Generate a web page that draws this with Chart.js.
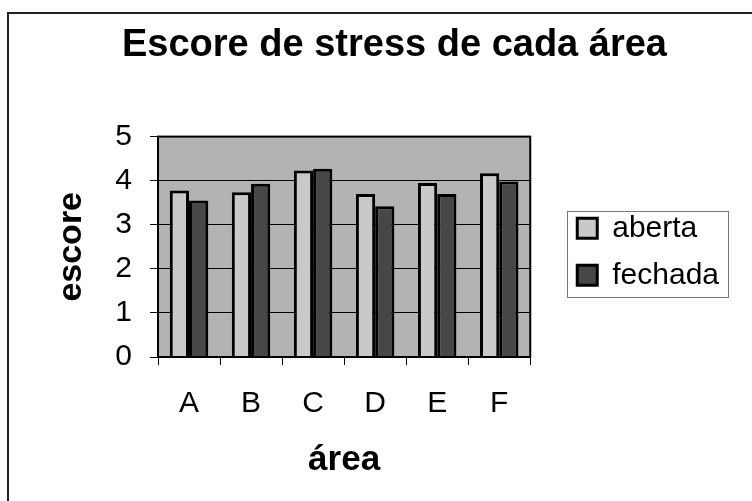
<!DOCTYPE html>
<html>
<head>
<meta charset="utf-8">
<script src="https://cdn.jsdelivr.net/npm/chart.js@4/dist/chart.umd.min.js"></script>
<style>
  html, body { margin: 0; padding: 0; background: #fff; }
  #wrap { width: 752px; height: 501px; }
</style>
</head>
<body>
<div id="wrap"><canvas id="chart" width="752" height="501"></canvas></div>
<script>
const areas = ['A', 'B', 'C', 'D', 'E', 'F'];
const aberta = [3.78, 3.74, 4.23, 3.70, 3.95, 4.17];
const fechada = [3.55, 3.93, 4.27, 3.42, 3.70, 3.98];
const yTicks = [0, 1, 2, 3, 4, 5];

const FONT = 'Liberation Sans, Arial, sans-serif';

// page frame, plot background and border, legend box
const framePlugin = {
    id: 'frame',
    afterLayout(chart) {
        // the title sits a bit right of the canvas centre in the original
        chart.titleBlock.left += 26;
        chart.titleBlock.right += 26;
        // legend sits slightly below the plot's middle
        chart.legend.top += 5;
        chart.legend.bottom += 5;
    },
    beforeDraw(chart) {
        const ctx = chart.ctx;
        const a = chart.chartArea;
        ctx.save();
        ctx.fillStyle = '#b3b3b3';
        ctx.fillRect(a.left, a.top, a.right - a.left, a.bottom - a.top);
        ctx.strokeStyle = '#222';
        ctx.lineWidth = 2;
        ctx.beginPath();
        ctx.moveTo(8, 501);
        ctx.lineTo(8, 13);
        ctx.lineTo(752, 13);
        ctx.stroke();
        ctx.restore();
    },
    afterDraw(chart) {
        const ctx = chart.ctx;
        const a = chart.chartArea;
        ctx.save();
        ctx.strokeStyle = '#000';
        ctx.lineWidth = 2;
        ctx.strokeRect(a.left, a.top, a.right - a.left, a.bottom - a.top);

        const hb = chart.legend.legendHitBoxes;
        if (hb && hb.length) {
            const left = hb[0].left - 10;
            const top = hb[0].top - 2;
            const right = Math.max(...hb.map(h => h.left + h.width)) + 9;
            const bottom = hb[hb.length - 1].top + hb[hb.length - 1].height + 7;
            ctx.strokeStyle = '#777';
            ctx.lineWidth = 1;
            ctx.strokeRect(Math.round(left) + 0.5, Math.round(top) + 0.5,
                Math.round(right - left), Math.round(bottom - top));
        }
        ctx.restore();
    }
};

new Chart(document.getElementById('chart').getContext('2d'), {
    type: 'bar',
    data: {
        labels: areas,
        datasets: [{
            label: 'aberta',
            data: aberta,
            backgroundColor: '#c9c9c9',
            borderColor: '#000',
            borderWidth: 3,
            categoryPercentage: 0.62,
            barPercentage: 1.0
        }, {
            label: 'fechada',
            data: fechada,
            backgroundColor: '#474747',
            borderColor: '#000',
            borderWidth: 3,
            categoryPercentage: 0.62,
            barPercentage: 1.0
        }]
    },
    options: {
        responsive: false,
        animation: false,
        layout: { padding: { left: 8, right: 23, top: 0, bottom: 0 } },
        plugins: {
            title: {
                display: true,
                text: 'Escore de stress de cada área',
                color: '#000',
                font: { family: FONT, size: 38, weight: 'bold' },
                padding: { top: 23, bottom: 68 }
            },
            legend: {
                position: 'right',
                fullSize: false,
                maxWidth: 200,
                labels: {
                    color: '#000',
                    font: { family: FONT, size: 30 },
                    boxWidth: 20,
                    boxHeight: 20,
                    padding: 17
                }
            },
            tooltip: { enabled: false }
        },
        scales: {
            x: {
                grid: {
                    display: true,
                    drawOnChartArea: false,
                    offset: true,
                    color: '#000',
                    tickLength: 8
                },
                border: { color: '#000', width: 2 },
                ticks: {
                    color: '#000',
                    font: { family: FONT, size: 30 },
                    padding: 21
                },
                title: {
                    display: true,
                    text: 'área',
                    color: '#000',
                    font: { family: FONT, size: 35, weight: 'bold' },
                    padding: { top: 0, bottom: 20 }
                },
                afterFit(scale) { scale.height = 144; }
            },
            y: {
                min: 0,
                max: 5,
                afterBuildTicks(scale) { scale.ticks = yTicks.map(v => ({ value: v })); },
                grid: { color: '#000', tickLength: 8 },
                border: { color: '#000', width: 2 },
                ticks: {
                    color: '#000',
                    font: { family: FONT, size: 30 },
                    padding: 18
                },
                title: {
                    display: true,
                    text: 'escore',
                    color: '#000',
                    font: { family: FONT, size: 34, weight: 'bold' },
                    padding: { top: 43, bottom: 0 }
                },
                afterFit(scale) { scale.width = 150; }
            },
            // spacer between the plot and the legend
            gap: {
                position: 'right',
                display: true,
                grid: { display: false },
                border: { display: false },
                ticks: { display: false },
                afterFit(scale) { scale.width = 30; }
            }
        }
    },
    plugins: [framePlugin]
});
</script>
</body>
</html>
